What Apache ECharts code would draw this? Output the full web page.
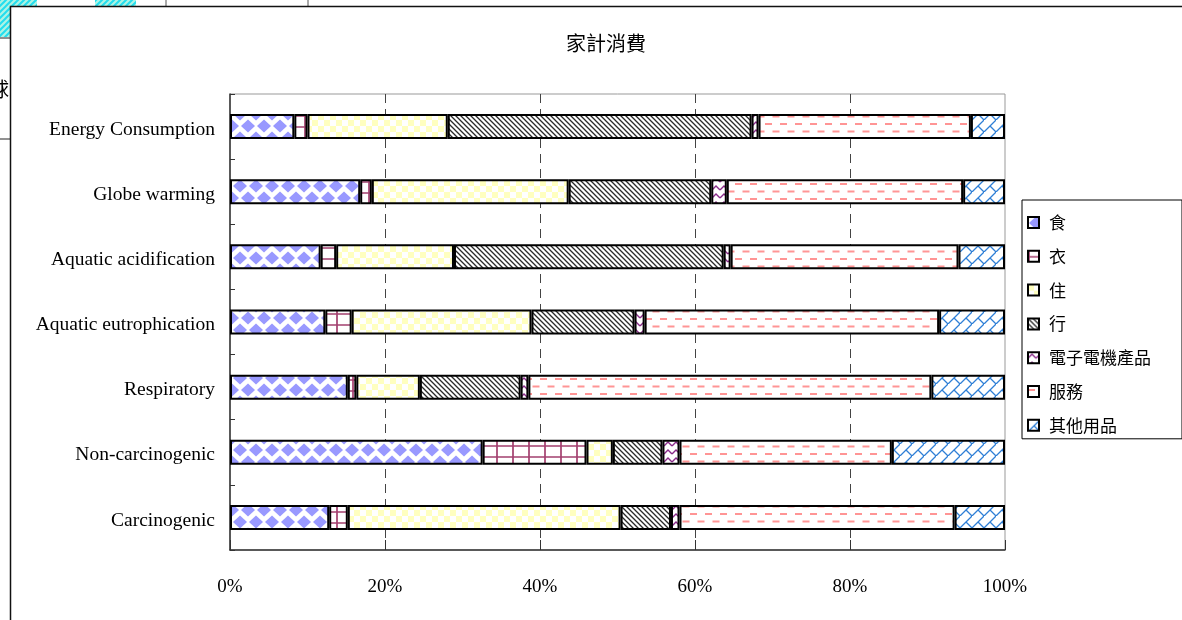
<!DOCTYPE html>
<html>
<head>
<meta charset="utf-8">
<script src="https://cdn.jsdelivr.net/npm/echarts@6/dist/echarts.min.js"></script>
<style>
  html, body { margin: 0; padding: 0; background: #fff; }
  #chart { width: 1182px; height: 620px; }
</style>
</head>
<body>
<div id="chart"></div>
<script>
// Impact categories, listed top to bottom
const categories = [
  'Energy Consumption',
  'Globe warming',
  'Aquatic acidification',
  'Aquatic eutrophication',
  'Respiratory',
  'Non-carcinogenic',
  'Carcinogenic'
];

// Household consumption groups (legend order)
const groups = ['食', '衣', '住', '行', '電子電機產品', '服務', '其他用品'];

// Share of each group per impact category (%), same order as categories
const food        = [8.3, 16.8, 11.7, 12.3, 15.2, 32.6, 12.8];
const clothing    = [1.7, 1.5, 2.0, 3.4, 1.1, 13.4, 2.4];
const housing     = [18.1, 25.4, 15.2, 23.2, 8.2, 3.4, 35.2];
const transport   = [39.2, 18.4, 34.8, 13.3, 13.0, 6.4, 6.5];
const electronics = [0.9, 2.0, 0.9, 1.3, 1.0, 2.2, 1.1];
const services    = [27.4, 30.5, 29.4, 38.0, 52.0, 27.4, 35.5];
const others      = [4.4, 5.4, 6.0, 8.5, 9.5, 14.6, 6.5];

const seriesValues = [food, clothing, housing, transport, electronics, services, others];

const xTicks = [0, 20, 40, 60, 80, 100];
const titleText = '家計消費';

// ---- fill patterns drawn on small canvases ----
function tile(w, h, draw) {
  const c = document.createElement('canvas');
  c.width = w; c.height = h;
  const g = c.getContext('2d');
  g.fillStyle = '#ffffff';
  g.fillRect(0, 0, w, h);
  draw(g, w, h);
  return { image: c, repeat: 'repeat' };
}

function diamond(g, cx, cy, rx, ry) {
  g.beginPath();
  g.moveTo(cx, cy - ry);
  g.lineTo(cx + rx, cy);
  g.lineTo(cx, cy + ry);
  g.lineTo(cx - rx, cy);
  g.closePath();
  g.fill();
}

const patterns = [
  // 食: blue diamonds
  tile(16, 24, (g) => {
    g.fillStyle = '#9999ff';
    const rx = 7, ry = 6.5;
    [[8, 6], [0, 18], [16, 18], [0, -6], [16, -6], [8, 30]].forEach(([x, y]) => diamond(g, x, y, rx, ry));
  }),
  // 衣: plum grid
  tile(16, 11, (g) => {
    g.strokeStyle = '#a3406f';
    g.lineWidth = 1.7;
    g.beginPath();
    g.moveTo(1, 0); g.lineTo(1, 11);
    g.moveTo(0, 6); g.lineTo(16, 6);
    g.stroke();
  }),
  // 住: pale yellow checkerboard
  tile(12, 12, (g) => {
    g.fillStyle = '#ffffc0';
    g.fillRect(0, 0, 6, 6);
    g.fillRect(6, 6, 6, 6);
  }),
  // 行: dense dark diagonal stripes
  tile(5, 5, (g) => {
    g.strokeStyle = '#2a2a2a';
    g.lineWidth = 1.3;
    g.beginPath();
    g.moveTo(-1, -1); g.lineTo(6, 6);
    g.moveTo(-1, 4); g.lineTo(1, 6);
    g.moveTo(4, -1); g.lineTo(6, 1);
    g.stroke();
  }),
  // 電子電機產品: purple chevrons
  tile(8, 8, (g) => {
    g.strokeStyle = '#8a2b8a';
    g.lineWidth = 1.4;
    g.beginPath();
    g.moveTo(0, 6); g.lineTo(4, 2); g.lineTo(8, 6);
    g.stroke();
  }),
  // 服務: pink dashed rows
  tile(15, 15, (g) => {
    g.strokeStyle = '#ff9595';
    g.lineWidth = 2;
    g.beginPath();
    g.moveTo(0, 4); g.lineTo(7, 4);
    g.moveTo(7.5, 11.5); g.lineTo(14.5, 11.5);
    g.stroke();
  }),
  // 其他用品: blue diagonal brick
  tile(12, 12, (g) => {
    g.strokeStyle = '#2f7fd6';
    g.lineWidth = 1.3;
    g.beginPath();
    g.moveTo(-1, 13); g.lineTo(13, -1);
    g.moveTo(6, 6); g.lineTo(12, 12);
    g.stroke();
  })
];

// Cyan hatching for the sheet cells behind the chart frame
const cyanHatch = tile(6, 6, (g) => {
  g.fillStyle = '#aef3e4';
  g.fillRect(0, 0, 6, 6);
  g.strokeStyle = '#22ddee';
  g.lineWidth = 2;
  g.beginPath();
  g.moveTo(-1, 7); g.lineTo(7, -1);
  g.moveTo(-1, 1); g.lineTo(1, -1);
  g.moveTo(5, 7); g.lineTo(7, 5);
  g.stroke();
});

const serifFont = '"Liberation Serif", "DejaVu Serif", serif';
const cjkFont = '"Noto Sans CJK TC", "Noto Sans CJK SC", sans-serif';

const chart = echarts.init(document.getElementById('chart'), null, { renderer: 'canvas' });

const series = groups.map((name, i) => ({
  name: name,
  type: 'bar',
  stack: 'total',
  barWidth: 25,
  data: seriesValues[i],
  itemStyle: {
    color: patterns[i],
    borderColor: '#000',
    borderWidth: 2
  },
  emphasis: { disabled: true },
  animation: false
}));

chart.setOption({
  backgroundColor: '#ffffff',
  animation: false,
  title: {
    text: titleText,
    left: 601,
    top: 28,
    textAlign: 'center',
    textStyle: { fontFamily: cjkFont, fontSize: 20, fontWeight: 'normal', color: '#000' }
  },
  legend: {
    data: groups,
    orient: 'vertical',
    left: 1022,
    top: 200,
    padding: [14, 31, 5, 5],
    itemGap: 16.8,
    itemWidth: 11,
    itemHeight: 11,
    icon: 'rect',
    backgroundColor: '#fff',
    borderColor: '#000',
    borderWidth: 1,
    itemStyle: { borderColor: '#000', borderWidth: 2 },
    textStyle: { fontFamily: cjkFont, fontSize: 17, color: '#000', padding: [0, 0, 0, 5] },
    selectedMode: false
  },
  grid: {
    left: 230,
    right: 177,
    top: 94,
    bottom: 70,
    show: true,
    borderColor: '#999',
    borderWidth: 1,
    backgroundColor: 'transparent'
  },
  xAxis: {
    type: 'value',
    min: 0,
    max: 100,
    interval: 20,
    axisLine: { show: true, lineStyle: { color: '#333', width: 1.5 } },
    axisTick: { show: true, inside: true, length: 10, lineStyle: { color: '#333' } },
    axisLabel: {
      formatter: '{value}%',
      margin: 28,
      fontFamily: serifFont,
      fontSize: 19,
      color: '#000'
    },
    splitLine: {
      show: true,
      showMinLine: false,
      showMaxLine: false,
      lineStyle: { color: '#444', type: [9, 6], width: 1 }
    }
  },
  yAxis: {
    type: 'category',
    data: categories,
    inverse: true,
    axisLine: { show: true, lineStyle: { color: '#333', width: 1.5 } },
    axisTick: { show: true, inside: true, length: 5, lineStyle: { color: '#333' } },
    axisLabel: {
      margin: 15,
      fontFamily: serifFont,
      fontSize: 19.5,
      color: '#000',
      verticalAlign: 'top',
      lineHeight: 6
    },
    splitLine: { show: false }
  },
  graphic: [
    // sheet cells peeking out behind the chart frame
    { type: 'rect', z: -20, shape: { x: 0, y: 0, width: 37, height: 37 }, style: { fill: cyanHatch } },
    { type: 'rect', z: -20, shape: { x: 95, y: 0, width: 41, height: 6 }, style: { fill: cyanHatch } },
    { type: 'line', z: -20, shape: { x1: 166, y1: 0, x2: 166, y2: 6 }, style: { stroke: '#555', lineWidth: 1 } },
    { type: 'line', z: -20, shape: { x1: 308, y1: 0, x2: 308, y2: 6 }, style: { stroke: '#555', lineWidth: 1 } },
    { type: 'line', z: -20, shape: { x1: 0, y1: 38, x2: 10, y2: 38 }, style: { stroke: '#222', lineWidth: 1 } },
    { type: 'line', z: -20, shape: { x1: 0, y1: 139, x2: 10, y2: 139 }, style: { stroke: '#222', lineWidth: 1 } },
    { type: 'text', z: -20, x: -11, y: 79, style: { text: '球', font: '20px ' + cjkFont, fill: '#000' } },
    // chart frame
    { type: 'rect', z: -10, shape: { x: 10.5, y: 6.5, width: 1200, height: 700 }, style: { fill: '#fff', stroke: '#111', lineWidth: 1.5 } }
  ],
  series: series
});
</script>
</body>
</html>
